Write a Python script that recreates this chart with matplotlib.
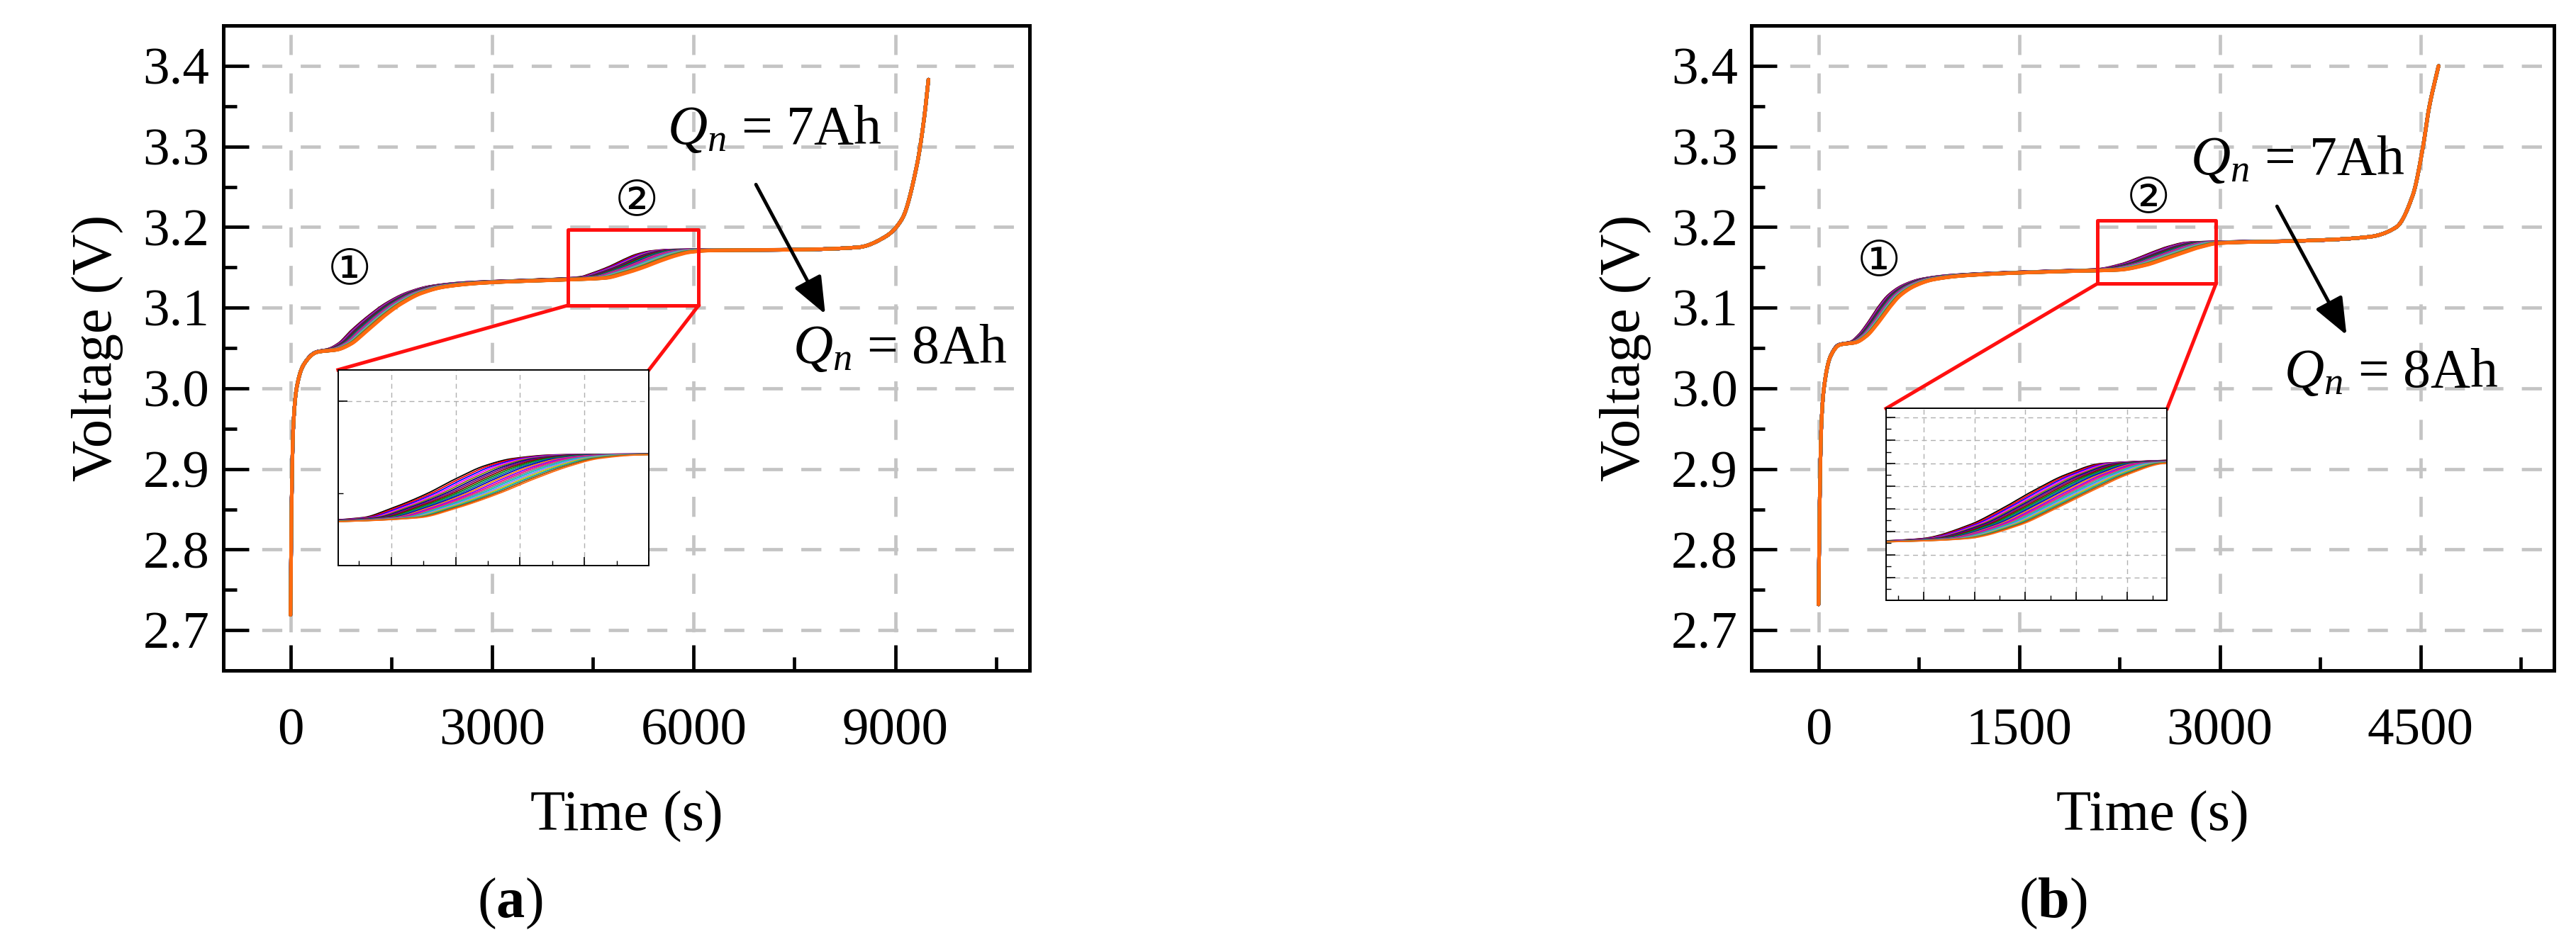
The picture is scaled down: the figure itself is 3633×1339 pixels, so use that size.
import numpy as np
import matplotlib
matplotlib.use("Agg")
import matplotlib.pyplot as plt
from matplotlib.ticker import MultipleLocator, NullFormatter

plt.rcParams['font.family'] = ['Liberation Serif', 'DejaVu Sans']
plt.rcParams['mathtext.fontset'] = 'custom'
plt.rcParams['mathtext.rm'] = 'Liberation Serif'
plt.rcParams['mathtext.it'] = 'Liberation Serif:italic'
plt.rcParams['mathtext.bf'] = 'Liberation Serif:bold'

# ---------------- data ----------------
Q_values = [7.00, 7.05, 7.10, 7.15, 7.20, 7.25, 7.30, 7.35, 7.40, 7.45, 7.50,
            7.55, 7.60, 7.65, 7.70, 7.75, 7.80, 7.85, 7.90, 7.95, 8.00]
colors = ['#000000', '#FF0000', '#0000FF', '#FF00FF', '#808000', '#000080',
          '#800080', '#800000', '#008000', '#008080', '#0000C0', '#FF8000',
          '#8000FF', '#FF0080', '#808080', '#00C0C0', '#8080FF', '#C0C000',
          '#00A0A0', '#A05000', '#FF6A10']

# panel (a): voltage nodes, time for Qn = 8Ah and Qn = 7Ah
a_V = [2.719, 2.85, 2.95, 3.00, 3.03, 3.045, 3.048, 3.055, 3.07, 3.09, 3.105,
       3.118, 3.126, 3.131, 3.134, 3.137, 3.142, 3.150, 3.158, 3.165, 3.169,
       3.171, 3.172, 3.175, 3.188, 3.21, 3.276, 3.335, 3.383]
a_T8 = [0, 15, 40, 90, 200, 400, 700, 900, 1120, 1400, 1650, 1950, 2300, 2900,
        3800, 4700, 4950, 5250, 5500, 5750, 5950, 6250, 7500, 8450, 8850, 9100,
        9320, 9430, 9494]
a_T7 = [0, 15, 40, 90, 200, 380, 560, 720, 900, 1180, 1430, 1740, 2080, 2650,
        3600, 4300, 4500, 4750, 4950, 5150, 5350, 5650, 7500, 8450, 8850, 9100,
        9320, 9430, 9494]

# panel (b)
b_V = [2.732, 2.85, 2.95, 3.00, 3.04, 3.054, 3.057, 3.065, 3.08, 3.10, 3.115,
       3.127, 3.135, 3.140, 3.145, 3.147, 3.153, 3.160, 3.168, 3.175, 3.180,
       3.183, 3.188, 3.20, 3.24, 3.30, 3.347, 3.40]
b_T8 = [0, 8, 20, 40, 90, 160, 280, 360, 440, 530, 610, 720, 860, 1100, 1800,
        2250, 2450, 2580, 2720, 2850, 2990, 3600, 4120, 4320, 4444, 4520, 4564, 4636]
b_T7 = [0, 8, 20, 40, 90, 150, 240, 300, 370, 450, 525, 630, 770, 1010, 1700,
        2080, 2260, 2380, 2500, 2620, 2760, 3600, 4120, 4320, 4444, 4520, 4564, 4636]

GRID_C = '#c4c4c4'


def pchip(x, y, xn):
    x = np.asarray(x, float); y = np.asarray(y, float)
    h = np.diff(x); d = np.diff(y) / h
    m = np.zeros_like(y)
    for i in range(1, len(x) - 1):
        if d[i - 1] * d[i] > 0:
            w1 = 2 * h[i] + h[i - 1]; w2 = h[i] + 2 * h[i - 1]
            m[i] = (w1 + w2) / (w1 / d[i - 1] + w2 / d[i])
    m[0] = d[0]; m[-1] = d[-1]
    idx = np.clip(np.searchsorted(x, xn) - 1, 0, len(x) - 2)
    t = (xn - x[idx]) / h[idx]
    h00 = 2 * t**3 - 3 * t**2 + 1; h10 = t**3 - 2 * t**2 + t
    h01 = -2 * t**3 + 3 * t**2; h11 = t**3 - t**2
    return (h00 * y[idx] + h10 * h[idx] * m[idx] + h01 * y[idx + 1]
            + h11 * h[idx] * m[idx + 1])


def curves(V, T8, T7):
    out = []
    for q in Q_values:
        w = (8.0 - q) / 1.0
        T = np.array(T8, float) + w * (np.array(T7, float) - np.array(T8, float))
        tt = np.linspace(T[0], T[-1], 4000)
        out.append((tt, pchip(T, V, tt)))
    return out


def style_main(ax, xmaj, xlim):
    ax.set_xlim(*xlim)
    ax.set_ylim(2.65, 3.45)
    ax.xaxis.set_major_locator(MultipleLocator(xmaj))
    ax.xaxis.set_minor_locator(MultipleLocator(xmaj / 2))
    ax.yaxis.set_major_locator(MultipleLocator(0.1))
    ax.yaxis.set_minor_locator(MultipleLocator(0.05))
    ax.yaxis.set_major_formatter(matplotlib.ticker.FormatStrFormatter('%.1f'))
    ax.tick_params(which='major', direction='in', length=26, width=3.4,
                   labelsize=54, pad=14, top=False, right=False)
    ax.tick_params(which='minor', direction='in', length=14, width=3.4,
                   top=False, right=False)
    ax.tick_params(axis='x', pad=38)
    for s in ax.spines.values():
        s.set_linewidth(3.6)
    ax.grid(True, which='major', color=GRID_C, lw=3.4, dashes=(6, 5.5))
    ax.set_axisbelow(True)
    ax.set_xlabel('Time (s)', fontsize=58, labelpad=36)
    ax.set_ylabel('Voltage (V)', fontsize=58, labelpad=20)


def style_inset(axi, xl, yl, xmaj, ymaj):
    axi.set_xlim(*xl); axi.set_ylim(*yl)
    axi.xaxis.set_major_locator(MultipleLocator(xmaj))
    axi.xaxis.set_minor_locator(MultipleLocator(xmaj / 2))
    axi.yaxis.set_major_locator(MultipleLocator(ymaj))
    axi.yaxis.set_minor_locator(MultipleLocator(ymaj / 2))
    axi.xaxis.set_major_formatter(NullFormatter())
    axi.yaxis.set_major_formatter(NullFormatter())
    axi.tick_params(which='major', direction='in', length=9, width=1.2)
    axi.tick_params(which='minor', direction='in', length=5, width=1.0)
    for s in axi.spines.values():
        s.set_linewidth(1.4)
    axi.grid(True, which='major', color='#b0b0b0', lw=1.0, dashes=(5, 4))
    axi.set_axisbelow(True)


fig = plt.figure(figsize=(36.33, 13.39), dpi=100)
axA = fig.add_axes([0.0867, 0.2935, 0.313, 0.6795])
axB = fig.add_axes([0.680, 0.2935, 0.3115, 0.6795])

panels = [
    dict(ax=axA, V=a_V, T8=a_T8, T7=a_T7, xmaj=3000, xlim=(-1000, 11000),
         rect=(4130, 3.103, 6074, 3.197), inset=(708, 2.78, 4627, 0.243),
         ixl=(4130, 6300), iyl=(3.111, 3.217), ixm=450, iym=0.1,
         q7=(7209, 3.32), q8=(9075, 3.048), arr=((6913, 3.255), (7972, 3.09)),
         c1=(877, 3.147), c2=(5148, 3.232), lab='(a)', labx=0.198),
    dict(ax=axB, V=b_V, T8=b_T8, T7=b_T7, xmaj=1500, xlim=(-500, 5500),
         rect=(2086, 3.130, 2972, 3.208), inset=(505, 2.737, 2102, 0.238),
         ixl=(1950, 3000), iyl=(3.120, 3.204), ixm=190, iym=0.01,
         q7=(3582, 3.282), q8=(4283, 3.018), arr=((3421, 3.228), (3955, 3.064)),
         c1=(453, 3.158), c2=(2466, 3.236), lab='(b)', labx=0.797),
]

for p in panels:
    ax = p['ax']
    style_main(ax, p['xmaj'], p['xlim'])
    cs = curves(p['V'], p['T8'], p['T7'])
    for (tt, vv), c in zip(cs, colors):
        ax.plot(tt, vv, color=c, lw=3.6, solid_capstyle='round', zorder=3)
    x0, y0, x1, y1 = p['rect']
    ax.plot([x0, x1, x1, x0, x0], [y0, y0, y1, y1, y0], color='#FF1010', lw=3.6, zorder=5)
    ix, iy, iw, ih = p['inset']
    ax.plot([x0, ix], [y0, iy + ih], color='#FF1010', lw=3.6, zorder=5)
    ax.plot([x1, ix + iw], [y0, iy + ih], color='#FF1010', lw=3.6, zorder=5)
    axi = ax.inset_axes([ix, iy, iw, ih], transform=ax.transData, zorder=6)
    style_inset(axi, p['ixl'], p['iyl'], p['ixm'], p['iym'])
    for (tt, vv), c in zip(cs, colors):
        axi.plot(tt, vv, color=c, lw=1.3)
    ax.text(*p['q7'], r'$Q_n$ = 7Ah', fontsize=56, ha='center', va='center', zorder=7)
    ax.text(*p['q8'], r'$Q_n$ = 8Ah', fontsize=56, ha='center', va='center', zorder=7)
    ax.annotate('', xy=p['arr'][1], xytext=p['arr'][0], zorder=7,
                arrowprops=dict(arrowstyle='-|>,head_length=3.2,head_width=1.3',
                                color='black', lw=3.5))
    ax.text(*p['c1'], '\u2460', fontsize=50, ha='center', va='center',
            family=['DejaVu Sans'], zorder=7)
    ax.text(*p['c2'], '\u2461', fontsize=50, ha='center', va='center',
            family=['DejaVu Sans'], zorder=7)
    fig.text(p['labx'], 0.048, r'(' + r'$\mathbf{' + p['lab'][1] + r'}$' + ')',
             fontsize=58, ha='center', va='center')

fig.savefig('out.png', dpi=100)
